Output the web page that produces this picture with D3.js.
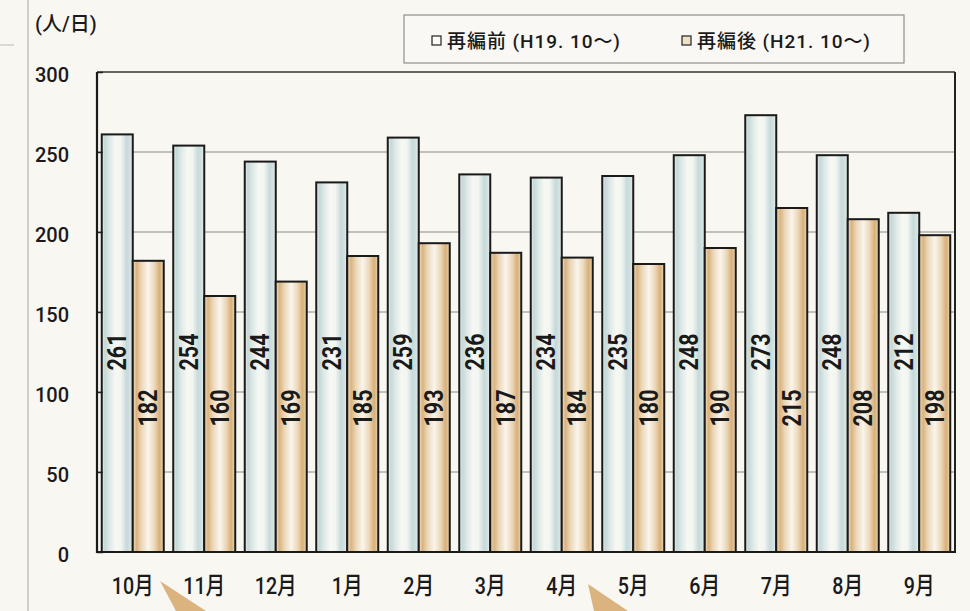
<!DOCTYPE html>
<html><head><meta charset="utf-8">
<script src="https://cdn.jsdelivr.net/npm/d3@7"></script>
<style>
html,body{margin:0;padding:0;background:#f8f7f2;}
svg{display:block;}
</style></head>
<body>
<svg id="c" width="970" height="611"></svg>
<script>
const months = ["10月","11月","12月","1月","2月","3月","4月","5月","6月","7月","8月","9月"];
const before = [261,254,244,231,259,236,234,235,248,273,248,212];
const after  = [182,160,169,185,193,187,184,180,190,215,208,198];
const seriesNames = ["再編前 (H19. 10〜)","再編後 (H21. 10〜)"];
const yTicks = [0,50,100,150,200,250,300];
const unitLabel = "(人/日)";

const svg = d3.select("#c");
const W=970,H=611;
const m={left:97,right:15,top:72,bottom:59};
const x0=m.left, x1=W-m.right, yTop=m.top, yBot=H-m.bottom;

const FN = "Roboto,'Noto Sans CJK JP',sans-serif";
const INK = "#1a1a1a";

svg.append("rect").attr("width",W).attr("height",H).attr("fill","#f8f7f2");

// page decorations
svg.append("line").attr("x1",28).attr("x2",28).attr("y1",0).attr("y2",H).attr("stroke","#b5b5b0").attr("stroke-width",1.2);
svg.append("line").attr("x1",0).attr("x2",14).attr("y1",45).attr("y2",45).attr("stroke","#bbb").attr("stroke-width",1);

const defs = svg.append("defs");
function grad(id, stops){
  const g=defs.append("linearGradient").attr("id",id).attr("x1","0").attr("x2","1").attr("y1","0").attr("y2","0");
  stops.forEach(s=>g.append("stop").attr("offset",s[0]).attr("stop-color",s[1]));
}
grad("gb",[["0%","#eef2ef"],["10%","#c4d8d8"],["24%","#dce8e6"],["45%","#f7f8f4"],["62%","#f2f5f1"],["80%","#c6dada"],["92%","#d4e2e1"],["100%","#f0f3f0"]]);
grad("go",[["0%","#f2e4cf"],["12%","#d9b37d"],["28%","#ebd7b9"],["50%","#faf5ec"],["70%","#ecd8ba"],["87%","#d8af77"],["100%","#eed8b8"]]);

const x = d3.scaleBand().domain(months).range([x0,x1]).paddingInner(0.133).paddingOuter(0.0665);
const xs = d3.scaleBand().domain([0,1]).range([0,x.bandwidth()]);
const y = d3.scaleLinear().domain([0,300]).range([yBot,yTop]);

// gridlines
svg.append("g").selectAll("line").data(yTicks.filter(t=>t>0&&t<300)).join("line")
  .attr("x1",x0).attr("x2",x1).attr("y1",d=>y(d)).attr("y2",d=>y(d))
  .attr("stroke","#8a8a86").attr("stroke-width",1);

// frame top & right
svg.append("line").attr("x1",x0).attr("x2",x1).attr("y1",y(300)).attr("y2",y(300)).attr("stroke","#333").attr("stroke-width",1.3);
svg.append("line").attr("x1",x1).attr("x2",x1).attr("y1",y(300)).attr("y2",yBot).attr("stroke","#222").attr("stroke-width",2);

// bars
const data = months.map((mo,i)=>({mo, v:[before[i],after[i]]}));
const gs = svg.append("g").selectAll("g").data(data).join("g").attr("transform",d=>`translate(${x(d.mo)},0)`);
gs.selectAll("rect").data(d=>d.v.map((v,k)=>({v,k}))).join("rect")
  .attr("x",d=>xs(d.k)).attr("width",xs.bandwidth())
  .attr("y",d=>y(d.v)).attr("height",d=>yBot-y(d.v))
  .attr("fill",d=>d.k===0?"url(#gb)":"url(#go)")
  .attr("stroke",INK).attr("stroke-width",2);

// value labels (rotated, reading bottom-to-top)
const labelPos=[125,90];
gs.selectAll("text").data(d=>d.v.map((v,k)=>({v,k}))).join("text")
  .attr("transform",d=>`translate(${xs(d.k)+xs.bandwidth()/2},${y(labelPos[d.k])}) rotate(-90) scale(0.86,1)`)
  .attr("text-anchor","middle").attr("dy","0.36em")
  .attr("font-family",FN).attr("font-weight","bold").attr("font-size",25).attr("fill",INK)
  .text(d=>d.v);

// y axis
const ya = svg.append("g").attr("transform",`translate(${x0},0)`)
  .call(d3.axisRight(y).tickValues(yTicks).tickSize(6).tickFormat(""));
ya.select(".domain").remove();
ya.selectAll("line").attr("stroke","#222").attr("stroke-width",1.5);
svg.append("line").attr("x1",x0).attr("x2",x0).attr("y1",yTop).attr("y2",yBot+1).attr("stroke",INK).attr("stroke-width",2.2);
svg.append("g").selectAll("text").data(yTicks).join("text")
  .attr("x",69).attr("y",d=>y(d)+3).attr("dy","0.36em").attr("text-anchor","end")
  .attr("font-family",FN).attr("font-weight",500).attr("font-size",20).attr("fill",INK).text(d=>d);

// x axis
svg.append("line").attr("x1",x0-1).attr("x2",x1+1).attr("y1",yBot).attr("y2",yBot).attr("stroke",INK).attr("stroke-width",2.2);
svg.append("g").selectAll("text").data(months).join("text")
  .attr("transform",d=>`translate(${x(d)+x.bandwidth()/2},585) scale(0.82,1)`)
  .attr("dy","0.36em").attr("text-anchor","middle")
  .attr("font-family",FN).attr("font-weight",500).attr("font-size",24).attr("fill",INK).text(d=>d);

// unit label
svg.append("text").attr("x",35).attr("y",24).attr("dy","0.36em")
  .attr("font-family",FN).attr("font-weight",500).attr("font-size",20).attr("fill",INK).text(unitLabel);

// legend
const lg = svg.append("g");
lg.append("rect").attr("x",404).attr("y",15).attr("width",500).attr("height",48)
  .attr("fill","#f9f8f4").attr("stroke","#8f8f8a").attr("stroke-width",1.2);
const lx=[432,682], lfill=["#fbfbf8","#efe0c8"];
seriesNames.forEach((s,i)=>{
  lg.append("rect").attr("x",lx[i]).attr("y",36).attr("width",9).attr("height",9)
    .attr("fill",lfill[i]).attr("stroke","#222").attr("stroke-width",1.2);
  lg.append("text").attr("x",lx[i]+15).attr("y",41).attr("dy","0.36em")
    .attr("font-family",FN).attr("font-weight",500).attr("font-size",19).attr("fill",INK)
    .attr("textLength",173).attr("lengthAdjust","spacing").text(s);
});

// callout arrows
svg.append("g").selectAll("polygon").data([[[160,581],[176,611],[206,611]],[[588,584],[594,611],[628,611]]]).join("polygon")
  .attr("points",d=>d.map(p=>p.join(",")).join(" ")).attr("fill","#dbb37e");
</script>
</body></html>
